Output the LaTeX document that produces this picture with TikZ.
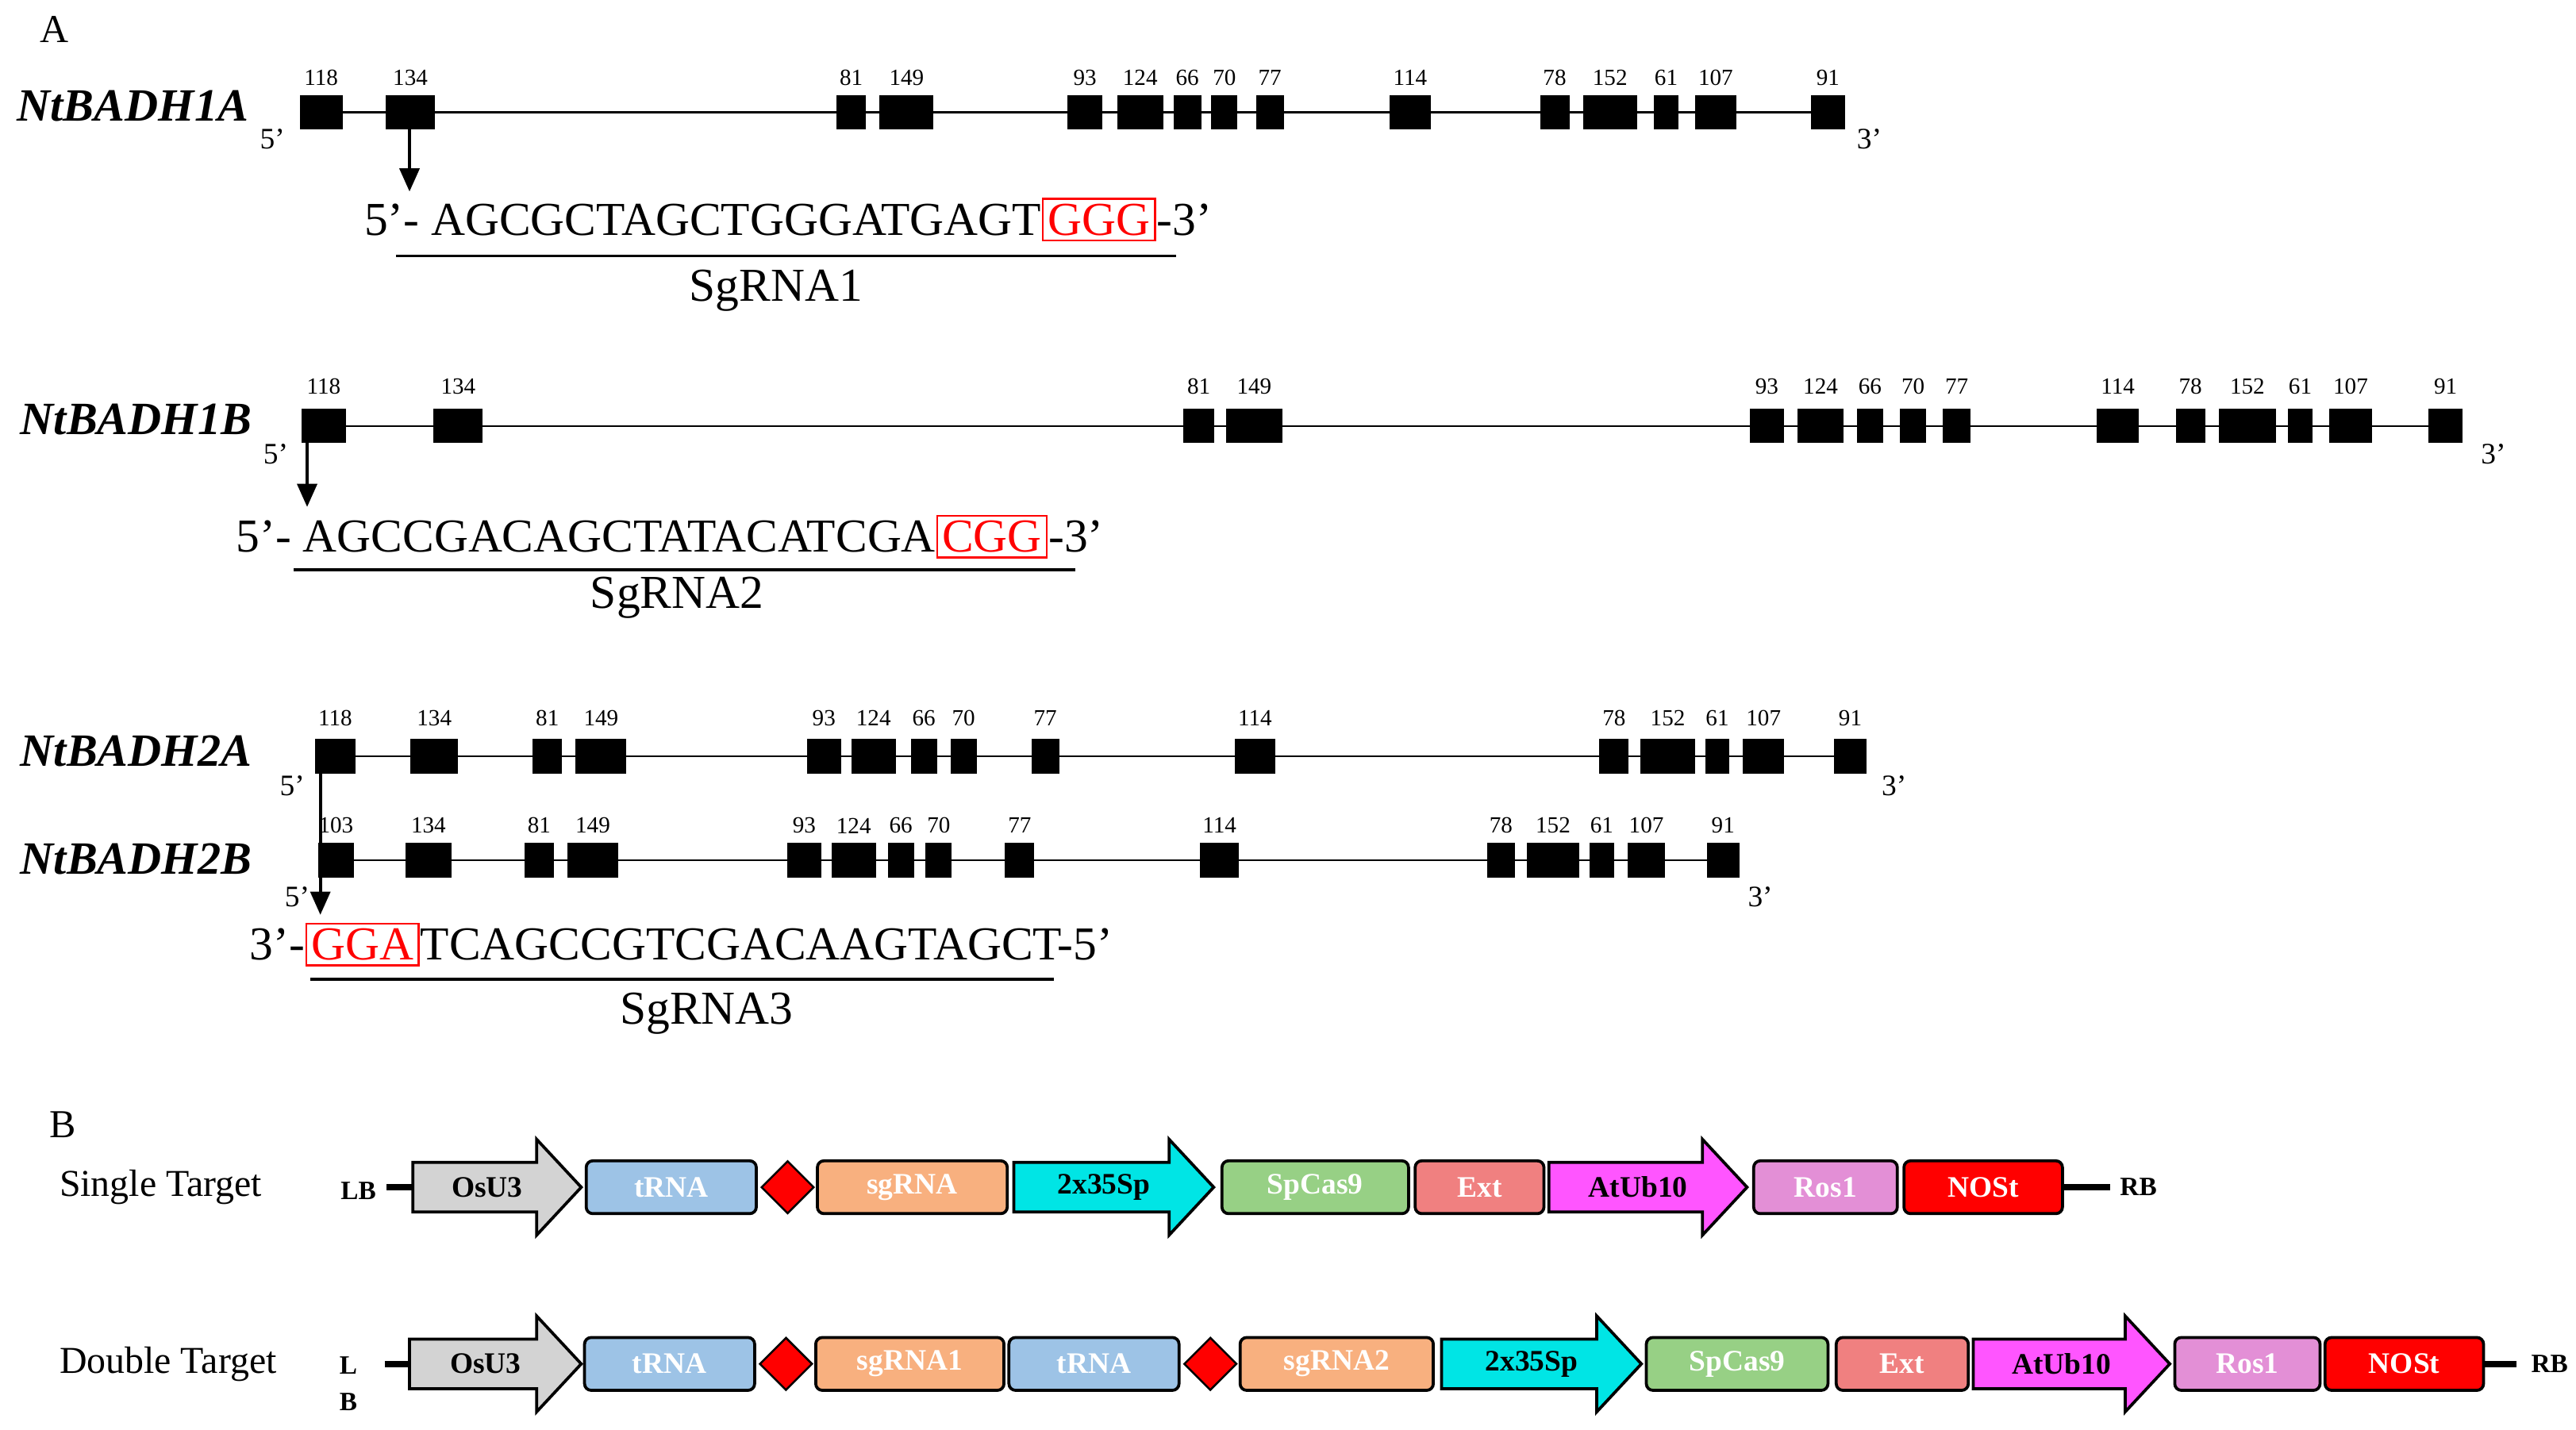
\documentclass[tikz,border=0pt]{standalone}
\usepackage{fontspec}
\setmainfont{Liberation Serif}
\usetikzlibrary{shapes.geometric,arrows.meta}
\definecolor{cgrey}{HTML}{D3D3D3}
\definecolor{ctrna}{HTML}{9DC3E6}
\definecolor{csg}{HTML}{F8B07F}
\definecolor{ccyan}{HTML}{00E5E5}
\definecolor{cgreen}{HTML}{97D085}
\definecolor{cext}{HTML}{F08080}
\definecolor{cmag}{HTML}{FF55FF}
\definecolor{cros}{HTML}{E38FD6}
\definecolor{cnos}{HTML}{FF0000}
\tikzset{
 exon/.style={fill=black,draw=black},
 num/.style={font=\fontsize{7}{8}\selectfont,inner sep=0pt},
 gname/.style={font=\fontsize{14}{15}\selectfont\bfseries\itshape,anchor=west,inner sep=0pt},
 prime/.style={font=\fontsize{9}{10}\selectfont,inner sep=0pt},
 seq/.style={font=\fontsize{14.3}{15}\selectfont,inner sep=0pt},
 pam/.style={seq,draw=red,text=red,inner sep=1.5pt,line width=0.6pt},
 part/.style={draw=black,line width=0.9pt,rounded corners=2pt},
 plab/.style={font=\fontsize{9}{10}\selectfont\bfseries,text=white},
 blab/.style={font=\fontsize{9}{10}\selectfont\bfseries,text=black},
 tarr/.style={-{Triangle[length=7pt,width=6pt]},line width=0.9pt},
}
\newcommand\genrow[5]{% y, x1, x2, labely, exonlist
 \draw[line width=0.6pt] (#2,#1) -- (#3,#1);
 \foreach \a/\b/\l in {#5}{
  \fill[exon] (\a,#1-10) rectangle (\b,#1+10);
  \node[num] at ({(\a+\b)/2},#4) {\l};}
}
\newcommand\gbox[6]{% name,x1,x2,y,color,label
 \draw[part,fill=#5] (#2,#4-16) rectangle (#3,#4+16);
 \node[plab] (#1) at ({(#2+#3)/2},#4) {#6};}
\newcommand\garr[6]{% name,x1,x2,y,color,label
 \draw[line width=0.9pt,fill=#5] (#2,#4-15) -- ({#3-27},#4-15) -- ({#3-27},#4-29) -- (#3,#4) -- ({#3-27},#4+29) -- ({#3-27},#4+15) -- (#2,#4+15) -- cycle;
 \node[blab] (#1) at ({(#2+#3-12)/2},#4) {#6};}
\newcommand\gdia[3]{% name,x,y
 \node[diamond,fill=red,draw=black,line width=0.6pt,minimum width=16pt,minimum height=16pt,inner sep=0pt] (#1) at (#2,#3) {};}
\begin{document}
\begin{tikzpicture}[x=0.5pt,y=-0.5pt]
\useasboundingbox (0,0) rectangle (1560,866);
\node[font=\fontsize{12}{13}\selectfont] (lA) at (33,18) {A};
\node[font=\fontsize{12}{13}\selectfont] (lB) at (38,681) {B};
% 1A
\node[gname] (g1a) at (10,64) {NtBADH1A};
\genrow{68}{182}{1117}{47}{182/207/118,234/263/134,507/524/81,533/565/149,647/667/93,677/704/124,711/727/66,734/749/70,761/777/77,842/866/114,933/950/78,959/991/152,1002/1016/61,1027/1051/107,1097/1117/91}
\node[prime] (p5a) at (165,84) {5'};
\node[prime] (p3a) at (1132,84) {3'};
\node[pam,anchor=west] (pam1) at (631,133) {GGG};
\node[seq,anchor=east] (s1) at (pam1.west) {5’- AGCGCTAGCTGGGATGAGT};
\node[seq,anchor=west] (e1) at (pam1.east) {-3’};
\draw[tarr] (248,78) -- (248,116);
\draw[line width=0.9pt] (240,155) -- (712,155);
\node[seq] (sg1) at (470,176) {SgRNA1};
% 1B
\node[gname] (g1b) at (12,254) {NtBADH1B};
\genrow{258}{183}{1491}{234}{183/209/118,263/292/134,717/735/81,743/776/149,1060/1080/93,1089/1116/124,1125/1140/66,1151/1166/70,1177/1193/77,1270/1295/114,1318/1335/78,1344/1378/152,1386/1400/61,1411/1436/107,1471/1491/91}
\node[prime] (p5b) at (167,275) {5'};
\node[prime] (p3b) at (1510,275) {3'};
\node[pam,anchor=west] (pam2) at (567,325) {CGG};
\node[seq,anchor=east] (s2) at (pam2.west) {5’- AGCCGACAGCTATACATCGA};
\node[seq,anchor=west] (e2) at (pam2.east) {-3’};
\draw[tarr] (186,268) -- (186,307);
\draw[line width=0.9pt] (178,345) -- (651,345);
\node[seq] (sg2) at (410,362) {SgRNA2};
% 2A
\node[gname] (g2a) at (12,455) {NtBADH2A};
\genrow{458}{191}{1130}{435}{191/215/118,249/277/134,323/340/81,349/379/149,489/509/93,516/542/124,552/567/66,576/591/70,625/641/77,748/772/114,969/986/78,994/1026/152,1033/1047/61,1056/1080/107,1111/1130/91}
\node[prime] (p5c) at (177,476) {5'};
\node[prime] (p3c) at (1147,476) {3'};
% 2B
\node[gname] (g2b) at (12,520) {NtBADH2B};
\genrow{521}{193}{1053}{500}{193/214/103,246/273/134,318/335/81,344/374/149,477/497/93,504/530/124,538/553/66,561/576/70,609/626/77,727/750/114,901/917/78,925/956/152,963/977/61,986/1008/107,1034/1053/91}
\node[prime] (p5d) at (180,543) {5'};
\node[prime] (p3d) at (1066,543) {3'};
\draw[tarr] (194,468) -- (194,554);
\node[pam,anchor=west] (pam3) at (185,572) {GGA};
\node[seq,anchor=east] (s3) at (pam3.west) {3’-};
\node[seq,anchor=west] (e3) at (pam3.east) {TCAGCCGTCGACAAGTAGCT-5’};
\draw[line width=0.9pt] (188,593) -- (638,593);
\node[seq] (sg3) at (428,614) {SgRNA3};
% B row 1
\node[font=\fontsize{11.5}{12}\selectfont,anchor=west] (st) at (29,719) {Single Target};
\node[blab,font=\fontsize{8}{9}\selectfont\bfseries] (lb1) at (217,721) {LB};
\draw[line width=2pt] (234,719) -- (250,719);
\garr{a1}{250}{352}{719}{cgrey}{OsU3}
\gbox{a2}{355}{458}{719}{ctrna}{tRNA}
\gdia{a3}{477}{719}
\gbox{a4}{495}{610}{719}{csg}{sgRNA}
\garr{a5}{614}{735}{719}{ccyan}{2x35Sp}
\gbox{a6}{740}{853}{719}{cgreen}{SpCas9}
\gbox{a7}{857}{935}{719}{cext}{Ext}
\garr{a8}{938}{1058}{719}{cmag}{AtUb10}
\gbox{a9}{1062}{1149}{719}{cros}{Ros1}
\gbox{a10}{1153}{1249}{719}{cnos}{NOSt}
\draw[line width=2pt] (1249,719) -- (1278,719);
\node[blab,font=\fontsize{8}{9}\selectfont\bfseries] (rb1) at (1295,719) {RB};
% B row 2
\node[font=\fontsize{11.5}{12}\selectfont,anchor=west] (dt) at (29,826) {Double Target};
\node[blab,font=\fontsize{8}{9}\selectfont\bfseries] (lb2) at (211,827) {L};
\node[blab,font=\fontsize{8}{9}\selectfont\bfseries] (lb3) at (211,849) {B};
\draw[line width=2pt] (233,826) -- (248,826);
\garr{b1}{248}{352}{826}{cgrey}{OsU3}
\gbox{b2}{354}{457}{826}{ctrna}{tRNA}
\gdia{b3}{476}{826}
\gbox{b4}{494}{608}{826}{csg}{sgRNA1}
\gbox{b5}{611}{714}{826}{ctrna}{tRNA}
\gdia{b6}{733}{826}
\gbox{b7}{751}{868}{826}{csg}{sgRNA2}
\garr{b8}{873}{994}{826}{ccyan}{2x35Sp}
\gbox{b9}{997}{1107}{826}{cgreen}{SpCas9}
\gbox{b10}{1112}{1192}{826}{cext}{Ext}
\garr{b11}{1195}{1314}{826}{cmag}{AtUb10}
\gbox{b12}{1317}{1405}{826}{cros}{Ros1}
\gbox{b13}{1408}{1504}{826}{cnos}{NOSt}
\draw[line width=2pt] (1504,826) -- (1524,826);
\node[blab,font=\fontsize{8}{9}\selectfont\bfseries] (rb2) at (1544,826) {RB};
\end{tikzpicture}
\end{document}
